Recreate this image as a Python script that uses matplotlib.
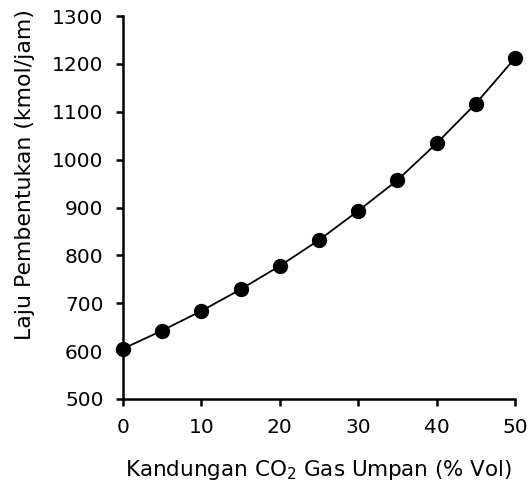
import matplotlib
matplotlib.use("Agg")
import matplotlib.pyplot as plt

co2_content = [0, 5, 10, 15, 20, 25, 30, 35, 40, 45, 50]
formation_rate = [605, 643, 684, 729, 778, 832, 893, 957, 1034, 1117, 1212]
x_ticks = [0, 10, 20, 30, 40, 50]
y_ticks = [500, 600, 700, 800, 900, 1000, 1100, 1200, 1300]

plt.rcParams['font.family'] = ['DejaVu Sans']

fig = plt.figure(figsize=(5.29, 4.93), dpi=100)
ax = fig.add_axes([0.2325, 0.1907, 0.741, 0.7768])

ax.plot(co2_content, formation_rate, color='black', linewidth=1.3,
        marker='o', markersize=10, clip_on=False, zorder=3)

ax.set_xlim(0, 50)
ax.set_ylim(500, 1300)
ax.set_xticks(x_ticks)
ax.set_yticks(y_ticks)

for side in ['top', 'right']:
    ax.spines[side].set_visible(False)
for side in ['left', 'bottom']:
    ax.spines[side].set_linewidth(1.8)

ax.tick_params(direction='out', length=5, width=1.8, labelsize=14.5, pad=9)

ax.set_xlabel('Kandungan CO$_2$ Gas Umpan (% Vol)', fontsize=15.5, labelpad=15)
ax.set_ylabel('Laju Pembentukan (kmol/jam)', fontsize=15.8, labelpad=12)
# label sits higher than the axes centre in the original
ax.yaxis.label.set_y(0.585)

fig.savefig('out.png', dpi=100)
